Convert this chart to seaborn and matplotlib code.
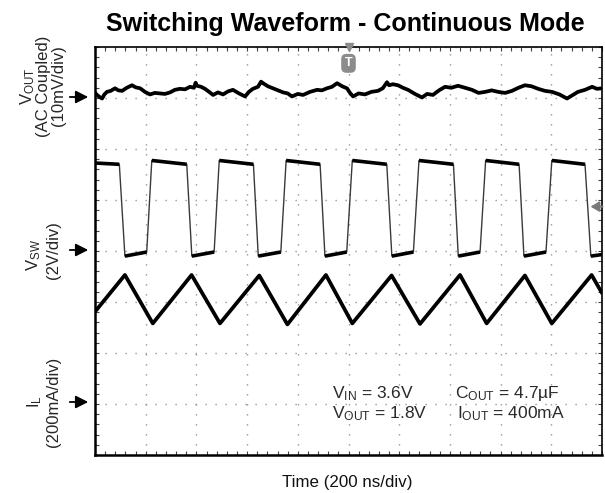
import numpy as np
import pandas as pd
import matplotlib
matplotlib.use("Agg")
import matplotlib.pyplot as plt
import seaborn as sns

# ---------------- data ----------------
# time in ns, 200 ns/div, 10 divisions
vout_t = [0, 8, 18, 28, 37, 47, 62, 79, 92, 107, 125, 146, 160, 178, 197, 217, 236, 256, 276, 296,
          315, 335, 355, 375, 390, 397, 402, 418, 434, 450, 466, 485, 505, 525, 544, 568, 592, 607,
          623, 643, 655, 663, 682, 702, 722, 742, 760, 777, 800, 821, 848, 876, 895, 915, 935, 955,
          975, 994, 1006, 1018, 1040, 1065, 1090, 1116, 1135, 1152, 1160, 1175, 1195, 1215, 1235,
          1262, 1290, 1310, 1333, 1357, 1381, 1405, 1432, 1460, 1487, 1513, 1539, 1565, 1590, 1618,
          1645, 1670, 1696, 1722, 1748, 1775, 1803, 1832, 1862, 1882, 1905, 1933, 1961, 1980, 2000]
vout_mv = [1.0, 0.6, 0.2, -0.1, 0.7, 1.2, 1.4, 1.9, 1.5, 1.4, 2.0, 2.5, 2.1, 1.9, 1.2, 0.7, 1.0, 0.9, 0.8, 1.1,
           1.6, 1.8, 1.7, 2.2, 2.0, 3.0, 2.4, 2.2, 1.8, 1.2, 0.6, 1.1, 0.7, 1.3, 1.6, 0.9, 0.3, 1.2,
           1.8, 2.2, 3.2, 2.9, 2.3, 1.9, 1.5, 1.1, 0.9, 0.3, 0.8, 0.6, 1.2, 1.6, 1.5, 1.9, 2.2, 2.9,
           2.3, 1.9, 1.0, 0.3, 0.9, 0.7, 1.2, 1.4, 1.9, 3.1, 2.5, 2.7, 2.5, 2.0, 1.6,
           0.8, 0.1, 0.8, 0.6, 1.5, 2.2, 2.0, 2.4, 2.0, 1.6, 1.0, 1.2, 1.5, 1.2, 1.0,
           1.4, 2.0, 2.5, 2.3, 1.8, 1.4, 1.2, 0.7, -0.1, 0.5, 1.2, 1.6, 2.2, 1.8, 1.9]

vsw_t = [0, 96, 118, 204, 224, 362, 382, 470, 490, 625, 644, 733, 754, 888, 907, 993, 1015,
         1151, 1171, 1256, 1278, 1414, 1433, 1519, 1541, 1673, 1692, 1779, 1802, 1933, 1956, 2000]
vsw_v = [3.45, 3.40,
         -0.20, -0.04, 3.55, 3.40,
         -0.20, -0.04, 3.55, 3.40,
         -0.20, -0.04, 3.55, 3.40,
         -0.20, -0.04, 3.55, 3.40,
         -0.20, -0.04, 3.55, 3.40,
         -0.20, -0.04, 3.55, 3.40,
         -0.20, -0.04, 3.55, 3.40,
         -0.20, -0.14]

il_t = [0, 118, 228, 381, 493, 648, 759, 911, 1015, 1170, 1282, 1440, 1545, 1696, 1802, 1959, 2000]
il_ma = [362, 506, 316, 506, 316, 504, 312, 506, 316, 504, 314, 506, 316, 504, 316, 506, 435]

# channel settings: (offset in div, units per div)
vout_offset, vout_scale = 7.0, 10.0     # mV/div
vsw_offset, vsw_scale = 4.0, 2.0        # V/div
il_offset, il_scale = 1.0, 200.0        # mA/div
trigger_t = 1000
trigger_level_v = 1.74

# ---------------- figure ----------------
W, H = 605, 493
sns.set_theme(style="white")
plt.rcParams['font.family'] = ['Liberation Sans', 'DejaVu Sans']
plt.rcParams['mathtext.fontset'] = 'custom'
plt.rcParams['mathtext.rm'] = 'Liberation Sans'
plt.rcParams['mathtext.it'] = 'Liberation Sans'

fig = plt.figure(figsize=(W / 100, H / 100), dpi=100, facecolor='white')

def fx(x):
    return x / W

def fy(y):
    return 1 - y / H

ax = fig.add_axes([fx(95), fy(455), (602 - 95) / W, (455 - 47) / H])
ax.set_facecolor('white')

df_vout = pd.DataFrame({'t': vout_t, 'div': vout_offset + np.array(vout_mv) / vout_scale})
df_vsw = pd.DataFrame({'t': vsw_t, 'div': vsw_offset + np.array(vsw_v) / vsw_scale})
df_il = pd.DataFrame({'t': il_t, 'div': il_offset + np.array(il_ma) / il_scale})

# VSW: thin edges, thick (noisy) flat parts
sns.lineplot(data=df_vsw, x='t', y='div', ax=ax, color='#3a3a3a', lw=1.0,
             estimator=None, sort=False)
for i in range(0, len(vsw_t) - 1, 2):
    seg = df_vsw.iloc[i:i + 2]
    sns.lineplot(data=seg, x='t', y='div', ax=ax, color='black', lw=2.6,
                 estimator=None, sort=False, solid_capstyle='butt')

sns.lineplot(data=df_vout, x='t', y='div', ax=ax, color='black', lw=2.7,
             estimator=None, sort=False)
sns.lineplot(data=df_il, x='t', y='div', ax=ax, color='black', lw=2.7,
             estimator=None, sort=False)

ax.set_xlim(0, 2000)
ax.set_ylim(0, 8)
ax.set_xticks(np.arange(0, 2001, 200))
ax.set_yticks(np.arange(0, 9, 1))
ax.set_xticks(np.arange(0, 2001, 40), minor=True)
ax.set_yticks(np.arange(0, 8.01, 0.2), minor=True)
ax.set_xticklabels([])
ax.set_yticklabels([])
ax.set_xlabel('')
ax.set_ylabel('')
ax.tick_params(which='both', direction='in', length=3.2, width=0.8, color='#444',
               top=True, right=True, bottom=True, left=True)
ax.grid(True, which='major', color='#8a8a8a', lw=1.0, linestyle=(0, (0.9, 6.3)))
for s in ax.spines.values():
    s.set_color('black')
    s.set_linewidth(1.8)
ax.spines['top'].set_linewidth(1.2)
ax.spines['right'].set_linewidth(1.2)

# trigger marker at top
ax.plot([trigger_t], [8], marker='v', color='#8c8c8c', markersize=6, clip_on=False, zorder=5)
ax.text(trigger_t, 7.68, 'T', ha='center', va='center', color='white', fontsize=9,
        fontweight='bold', zorder=6,
        bbox=dict(boxstyle='round,pad=0.22,rounding_size=0.35', fc='#8c8c8c', ec='#8c8c8c'))
# trigger level arrow on right
tl = vsw_offset + trigger_level_v / vsw_scale
ax.annotate('', xy=(1955, tl), xytext=(2002, tl),
            arrowprops=dict(arrowstyle='-|>,head_length=0.5,head_width=0.3', color='#7a7a7a',
                            lw=1.4, mutation_scale=10, shrinkA=0, shrinkB=0),
            annotation_clip=False, zorder=6)

# ---------------- text ----------------
fig.text(fx(345.5), fy(31), 'Switching Waveform - Continuous Mode', ha='center', va='baseline',
         fontsize=18, fontweight='bold', color='black')
fig.text(fx(347), fy(487), 'Time (200 ns/div)', ha='center', va='baseline', fontsize=12.2,
         color='#111')

big = 12
# VOUT label (three tight lines)
fig.text(fx(42), fy(86), 'V$_{\\mathregular{OUT}}$\n(AC Coupled)\n(10mV/div)', rotation=90,
         ha='center', va='center', multialignment='center', linespacing=0.95, fontsize=big)
# VSW label
fig.text(fx(34), fy(255), r'V$_{\mathregular{SW}}$', rotation=90, ha='center', va='center', fontsize=big)
fig.text(fx(53), fy(250), '(2V/div)', rotation=90, ha='center', va='center', fontsize=big)
# IL label
fig.text(fx(35), fy(402), r'I$_{\mathregular{L}}$', rotation=90, ha='center', va='center', fontsize=big)
fig.text(fx(54), fy(402), '(200mA/div)', rotation=90, ha='center', va='center', fontsize=big)

# channel ground arrows
for yy in (97, 250, 402):
    fig.add_artist(matplotlib.patches.FancyArrowPatch(
        (fx(67), fy(yy)), (fx(91), fy(yy)), transform=fig.transFigure,
        arrowstyle='-|>,head_length=0.75,head_width=0.38', mutation_scale=10,
        color='black', lw=1.3))

# operating conditions
tc = '#2a2a2a'
fs = 12.5
fig.text(fx(332), fy(398), r'V$_{\mathregular{IN}}$ = 3.6V', fontsize=fs, color=tc, va='baseline')
fig.text(fx(332), fy(418), r'V$_{\mathregular{OUT}}$ = 1.8V', fontsize=fs, color=tc, va='baseline')
fig.text(fx(455), fy(398), r'C$_{\mathregular{OUT}}$ = 4.7µF', fontsize=fs, color=tc, va='baseline')
fig.text(fx(457), fy(418), r'I$_{\mathregular{OUT}}$ = 400mA', fontsize=fs, color=tc, va='baseline')

fig.savefig('out.png', dpi=100, facecolor='white')
